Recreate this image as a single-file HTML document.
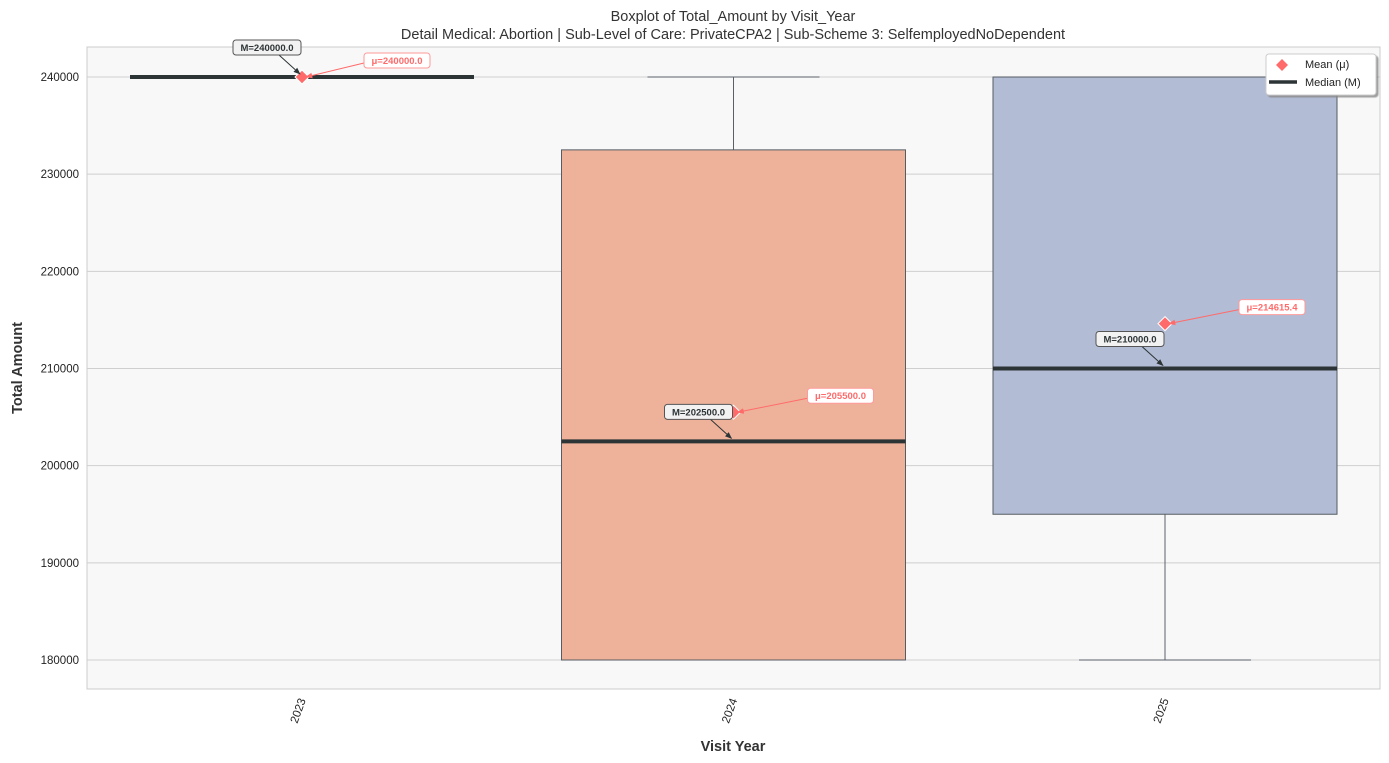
<!DOCTYPE html>
<html><head><meta charset="utf-8"><style>
body{margin:0;background:#fff;font-family:"Liberation Sans","DejaVu Sans",sans-serif}
svg{display:block}
</style></head><body>
<svg id="c" width="1389" height="763" xmlns="http://www.w3.org/2000/svg">
<defs>
<marker id="ak" viewBox="0 0 10 10" refX="9" refY="5" markerWidth="7" markerHeight="7" orient="auto"><path d="M0,1 L10,5 L0,9 z" fill="#2d3436"/></marker>
<marker id="ar" viewBox="0 0 10 10" refX="9" refY="5" markerWidth="7" markerHeight="7" orient="auto"><path d="M0,1 L10,5 L0,9 z" fill="#ff6b6b"/></marker>
<filter id="sh"><feDropShadow dx="2" dy="2" stdDeviation="0.5" flood-color="#888" flood-opacity="0.8"/></filter>
</defs>
<text x="733" y="21" text-anchor="middle" font-size="14.5" fill="#333">Boxplot of Total_Amount by Visit_Year</text>
<text x="733" y="39" text-anchor="middle" font-size="14.5" fill="#333">Detail Medical: Abortion | Sub-Level of Care: PrivateCPA2 | Sub-Scheme 3: SelfemployedNoDependent</text>
<rect x="87" y="47" width="1293" height="642" fill="#f8f8f8" stroke="#ccc"/>
<g id="grid"></g><g id="boxes"></g><g id="ann"></g>
<text x="733" y="751" text-anchor="middle" font-size="14.5" font-weight="bold" fill="#333">Visit Year</text>
<text transform="translate(22,368) rotate(-90)" text-anchor="middle" font-size="14.5" font-weight="bold" fill="#333">Total Amount</text>
<g filter="url(#sh)">
<rect x="1266" y="54" width="110" height="41" rx="3" fill="#fff" stroke="#ccc"/>
</g>
<path d="M1282,59 l6,6 l-6,6 l-6,-6z" fill="#ff6b6b"/>
<text x="1305" y="68" font-size="11" fill="#222">Mean (μ)</text>
<line x1="1269" y1="82" x2="1297" y2="82" stroke="#2d3436" stroke-width="3.5"/>
<text x="1305" y="86" font-size="11" fill="#222">Median (M)</text>
</svg>
<script>
const categories=["2023","2024","2025"];
const whiskerLow=[240000,180000,180000];
const q1=[240000,180000,195000];
const medians=[240000,202500,210000];
const q3=[240000,232500,240000];
const whiskerHigh=[240000,240000,240000];
const means=[240000,205500,214615.4];
const yTicks=[180000,190000,200000,210000,220000,230000,240000];
const fills=["#8fb3d9","#eeb29b","#b2bcd4"];
const NS="http://www.w3.org/2000/svg";
const y=v=>660-(v-180000)*583/60000;
const x=i=>302+i*431.5;
function mk(p,t,a){const e=document.createElementNS(NS,t);for(const k in a)e.setAttribute(k,a[k]);p.appendChild(e);return e;}
const grid=document.getElementById('grid'),boxes=document.getElementById('boxes'),ann=document.getElementById('ann'),svg=document.getElementById('c');
yTicks.forEach(v=>{
 const l=mk(grid,'line',{x1:87,x2:1380,y1:y(v),y2:y(v),stroke:'#cfcfcf'});
 
 
 const t=mk(svg,'text',{x:79,y:y(v)+4,'text-anchor':'end','font-size':11.5,fill:'#222'});t.textContent=v;
 
 
});
categories.forEach((c,i)=>{
 const cx=x(i),hw=172,cw=86;
 const g=mk(boxes,'g',{});
 
 
 mk(g,'line',{x1:cx,x2:cx,y1:y(whiskerHigh[i]),y2:y(q3[i]),stroke:'#5a6068','stroke-width':1});
 mk(g,'line',{x1:cx,x2:cx,y1:y(q1[i]),y2:y(whiskerLow[i]),stroke:'#5a6068','stroke-width':1});
 mk(g,'line',{x1:cx-cw,x2:cx+cw,y1:y(whiskerHigh[i]),y2:y(whiskerHigh[i]),stroke:'#5a6068'});
 mk(g,'line',{x1:cx-cw,x2:cx+cw,y1:y(whiskerLow[i]),y2:y(whiskerLow[i]),stroke:'#5a6068'});
 const top=y(q3[i]),h=y(q1[i])-top;
 if(h>0.5) mk(g,'rect',{x:cx-hw,y:top,width:2*hw,height:h,fill:fills[i],stroke:'#555c63','stroke-width':1});
 mk(g,'line',{x1:cx-hw,x2:cx+hw,y1:y(medians[i]),y2:y(medians[i]),stroke:'#2d3436','stroke-width':4});
 const mx=cx,my=y(means[i]);
 const d=mk(g,'path',{d:`M${mx},${my-7} l7,7 l-7,7 l-7,-7z`,fill:'#ff6b6b',stroke:'#fff','stroke-width':1});
 
 
 const xt=mk(svg,'text',{transform:`translate(${cx+4},700) rotate(-70)`,'text-anchor':'end','font-size':11.5,fill:'#222'});xt.textContent=c;
 
 
 const my2=y(medians[i]),lx=cx-35,ly=my2-29;
 const mt='M='+medians[i].toFixed(1);
 const a1=mk(ann,'g',{});
 
 
 mk(a1,'line',{x1:lx+12,x2:cx-2,y1:ly+7,y2:my2-3,stroke:'#2d3436','marker-end':'url(#ak)'});
 mk(a1,'rect',{x:lx-34,y:ly-8,width:68,height:15,rx:3,fill:'#f2f2f2',stroke:'#555'});
 const t1=mk(a1,'text',{x:lx,y:ly+3,'text-anchor':'middle','font-size':9.5,'font-weight':'bold',fill:'#2d3436'});t1.textContent=mt;
 const ux=cx+(i==0?95:107),uy=my-16;
 const ut='μ='+means[i].toFixed(1);
 const a2=mk(ann,'g',{});
 
 
 mk(a2,'line',{x1:ux-33,x2:cx+4,y1:uy+2,y2:my,stroke:'#ff6b6b','marker-end':'url(#ar)'});
 mk(a2,'rect',{x:ux-33,y:uy-8,width:66,height:15,rx:3,fill:'#fff',stroke:'#ff9a9a'});
 const t2=mk(a2,'text',{x:ux,y:uy+3,'text-anchor':'middle','font-size':9.5,'font-weight':'bold',fill:'#ff6b6b'});t2.textContent=ut;
});
</script>
</body></html>
